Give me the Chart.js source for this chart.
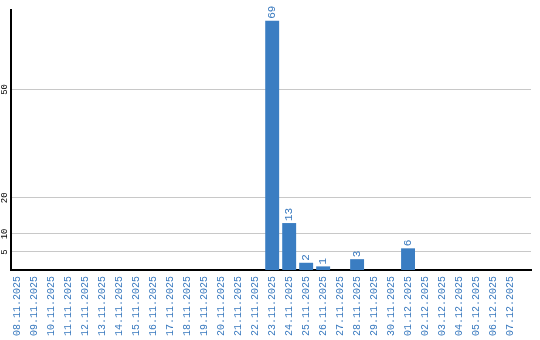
<!DOCTYPE html>
<html>
<head>
<meta charset="utf-8">
<script src="https://cdn.jsdelivr.net/npm/chart.js@4"></script>
<style>
  body { margin: 0; background: #fff; }
  #wrap { width: 540px; height: 340px; }
</style>
</head>
<body>
<div id="wrap"><canvas id="visitsChart"></canvas></div>
<script>
// dates on the x axis
const days = [
    "08.11.2025", "09.11.2025", "10.11.2025", "11.11.2025", "12.11.2025",
    "13.11.2025", "14.11.2025", "15.11.2025", "16.11.2025", "17.11.2025",
    "18.11.2025", "19.11.2025", "20.11.2025", "21.11.2025", "22.11.2025",
    "23.11.2025", "24.11.2025", "25.11.2025", "26.11.2025", "27.11.2025",
    "28.11.2025", "29.11.2025", "30.11.2025", "01.12.2025", "02.12.2025",
    "03.12.2025", "04.12.2025", "05.12.2025", "06.12.2025", "07.12.2025"
];
const counts = [
    0, 0, 0, 0, 0,
    0, 0, 0, 0, 0,
    0, 0, 0, 0, 0,
    69, 13, 2, 1, 0,
    3, 0, 0, 6, 0,
    0, 0, 0, 0, 0
];
const yTicks = [5, 10, 20, 50];

const barBlue = "#3a7dc2";
const labelBlue = "#3a7abf";
const monoFont = '"Liberation Mono", monospace';

// rotated labels: values above bars, dates under the axis, y ticks
const labelsPlugin = {
    id: 'rotLabels',
    afterDatasetsDraw(chart) {
        const ctx = chart.ctx;
        const meta = chart.getDatasetMeta(0);
        ctx.save();
        ctx.font = '11px ' + monoFont;
        ctx.fillStyle = labelBlue;
        meta.data.forEach(function (bar, i) {
            const v = counts[i];
            if (!v) return;
            ctx.save();
            ctx.translate(bar.x, bar.y - 2);
            ctx.rotate(-Math.PI / 2);
            ctx.textAlign = 'left';
            ctx.textBaseline = 'middle';
            ctx.fillText(String(v), 0, 0);
            ctx.restore();
        });

        const xScale = chart.scales.x;
        ctx.font = '10px ' + monoFont;
        days.forEach(function (d, i) {
            ctx.save();
            ctx.translate(xScale.getPixelForValue(i), xScale.top + 6);
            ctx.rotate(-Math.PI / 2);
            ctx.textAlign = 'right';
            ctx.textBaseline = 'middle';
            ctx.fillText(d, 0, 0);
            ctx.restore();
        });

        const yScale = chart.scales.y;
        ctx.font = '9px ' + monoFont;
        ctx.fillStyle = '#000';
        yTicks.forEach(function (t) {
            ctx.save();
            ctx.translate(5, yScale.getPixelForValue(t));
            ctx.rotate(-Math.PI / 2);
            ctx.textAlign = 'center';
            ctx.textBaseline = 'middle';
            ctx.fillText(String(t), 0, 0);
            ctx.restore();
        });
        ctx.restore();
    }
};

var ctx = document.getElementById("visitsChart");
var visitsChart = new Chart(ctx, {
    type: 'bar',
    data: {
        datasets: [{
            data: counts.map((v, i) => ({x: i, y: v})),
            backgroundColor: barBlue,
            borderWidth: 0,
            barPercentage: 0.82,
            categoryPercentage: 1
        }]
    },
    options: {
        responsive: true,
        maintainAspectRatio: false,
        animation: false,
        layout: {
            padding: {top: 10, right: 9, left: 0, bottom: 0}
        },
        plugins: {
            legend: {display: false},
            tooltip: {enabled: false}
        },
        scales: {
            x: {
                type: 'linear',
                offset: false,
                min: -0.38,
                max: 30.24,
                afterBuildTicks: function (scale) {
                    scale.ticks = days.map((d, i) => ({value: i}));
                },
                afterFit: function (scale) {
                    scale.height = 70;
                },
                ticks: {display: false},
                grid: {display: false, drawTicks: false, offset: false},
                border: {display: true, color: '#000', width: 2}
            },
            y: {
                min: 0,
                max: 72,
                afterBuildTicks: function (scale) {
                    scale.ticks = yTicks.map(v => ({value: v}));
                },
                afterFit: function (scale) {
                    scale.width = 11;
                },
                ticks: {display: false},
                grid: {
                    color: '#c8c8c8',
                    lineWidth: 1,
                    drawTicks: false
                },
                border: {display: true, color: '#000', width: 2}
            }
        }
    },
    plugins: [labelsPlugin]
});
</script>
</body>
</html>
